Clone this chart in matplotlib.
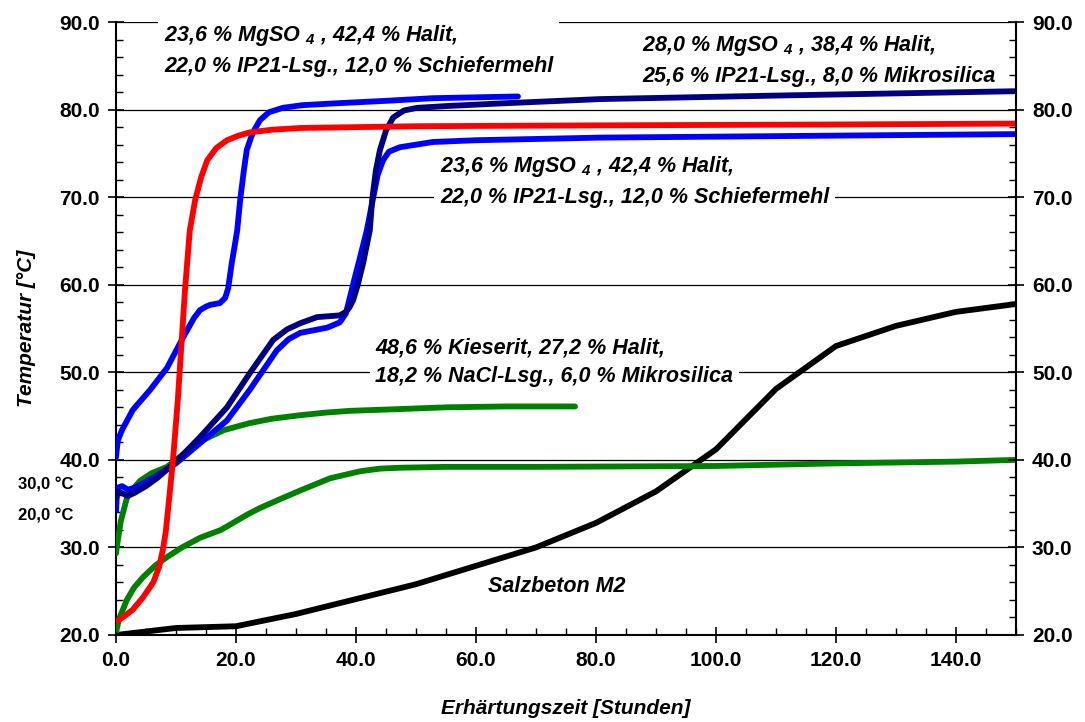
import matplotlib.pyplot as plt
from matplotlib.ticker import MultipleLocator, FormatStrFormatter

plt.rcParams['font.family'] = ['Liberation Sans', 'DejaVu Sans']
plt.rcParams['mathtext.fontset'] = 'custom'
plt.rcParams['mathtext.rm'] = 'Liberation Sans:bold:italic'
plt.rcParams['mathtext.it'] = 'Liberation Sans:bold:italic'

# Salzbeton M2 (schwarz)
m2_t = [0, 10, 20, 30, 40, 50, 60, 70, 80, 90, 100, 110, 120, 130, 140, 150]
m2_T = [20.0, 20.8, 21.0, 22.4, 24.1, 25.8, 27.9, 30.0, 32.8, 36.4, 41.2, 48.1, 53.0, 55.3, 56.9, 57.8]

# 48,6 % Kieserit ... (gruen, obere Kurve)
kies1_t = [0, 0.3, 0.8, 1.8, 3, 4, 6, 8.5, 10, 14, 18, 22.3, 26, 30.7, 35, 39, 47.3, 55, 65, 76.5]
kies1_T = [29.3, 30.8, 33.0, 35.6, 36.8, 37.6, 38.5, 39.2, 40.0, 42.1, 43.4, 44.2, 44.7, 45.1, 45.4, 45.6, 45.8, 46.0, 46.1, 46.1]

# 48,6 % Kieserit ... (gruen, untere Kurve)
kies2_t = [0, 0.5, 1.8, 3, 4.5, 6.5, 8.5, 11, 14, 17.5, 20, 22, 24, 27.3, 30.7, 35.7, 40.7, 44, 47.3, 55, 70, 100, 120, 140, 150]
kies2_T = [20.3, 21.8, 24.0, 25.4, 26.6, 27.9, 28.9, 30.0, 31.1, 32.0, 33.0, 33.8, 34.5, 35.5, 36.5, 37.9, 38.7, 39.0, 39.1, 39.2, 39.2, 39.3, 39.6, 39.8, 40.0]

# 28,0 % MgSO4 ... Mikrosilica (rot)
rot_t = [0, 1.5, 2.8, 4.5, 6.2, 7.2, 7.8, 8.3, 8.7, 9.5, 10.3, 10.7, 11.5, 12.3, 13.2, 14.2, 15.2, 16.7, 18.5, 20.3, 22.3, 26, 30.7, 50, 80.7, 120, 150]
rot_T = [21.5, 22.2, 22.9, 24.3, 26.0, 27.8, 29.7, 31.8, 34.5, 40.0, 46.8, 51.0, 59.4, 66.2, 69.7, 72.3, 74.2, 75.6, 76.5, 77.0, 77.4, 77.7, 77.9, 78.1, 78.2, 78.3, 78.4]

# 23,6 % MgSO4 ... Schiefermehl (blau, kurz)
blau1_t = [0, 0.3, 1, 2.8, 5.7, 8.5, 11.2, 13, 14, 15, 15.7, 17.3, 18.2, 18.7, 19.3, 19.8, 20.2, 20.7, 21.3, 21.8, 22.5, 23, 24, 25.5, 27.8, 31, 36.2, 45, 52.8, 60, 67]
blau1_T = [40.3, 42.2, 43.4, 45.7, 48.0, 50.5, 54.0, 56.2, 57.1, 57.5, 57.7, 57.9, 58.5, 59.6, 62.5, 64.5, 66.2, 69.7, 73.0, 75.4, 76.8, 77.6, 78.8, 79.7, 80.2, 80.5, 80.7, 81.0, 81.3, 81.4, 81.5]

# 28,0 % MgSO4 ... Mikrosilica (dunkelblau)
navy_t = [0, 0.3, 1, 2, 3, 5, 7, 10, 14, 18.5, 22.3, 26.2, 28.5, 30.7, 33.5, 37.3, 38.3, 38.9, 39.5, 40.3, 41.2, 42.3, 42.7, 43.3, 44, 45, 46.2, 48, 50.2, 55, 64, 80.7, 110, 150]
navy_T = [35.5, 36.4, 36.2, 35.9, 36.2, 37.0, 38.0, 39.8, 42.6, 46.0, 49.9, 53.7, 54.9, 55.6, 56.3, 56.5, 56.9, 57.4, 58.2, 60.0, 62.5, 66.2, 69.7, 73.0, 75.4, 77.6, 79.1, 79.9, 80.2, 80.4, 80.7, 81.2, 81.6, 82.1]

# 23,6 % MgSO4 ... Schiefermehl (blau, lang)
blau2_t = [0, 0.2, 1, 2, 3, 5, 7, 10, 14, 18.5, 22.3, 26.8, 28.8, 30.7, 35.2, 37.3, 38.3, 39, 39.8, 40.7, 41.8, 42.8, 43.6, 44.5, 45.5, 47.3, 52.8, 60, 80.7, 150]
blau2_T = [34.0, 36.8, 37.0, 36.6, 36.8, 37.5, 38.3, 39.6, 41.9, 44.5, 48.0, 52.5, 53.8, 54.5, 55.1, 55.7, 56.7, 58.6, 60.8, 63.2, 66.2, 69.7, 72.5, 74.2, 75.2, 75.7, 76.3, 76.5, 76.8, 77.2]

fig = plt.figure(figsize=(10.85, 7.22), dpi=100)
ax = fig.add_axes([0.1069, 0.1205, 0.8295, 0.849])

lw = 4.2
style = dict(lw=lw, solid_joinstyle='round', solid_capstyle='butt', zorder=3)
ax.plot(m2_t, m2_T, color='black', **style)
ax.plot(kies2_t, kies2_T, color='#008000', **style)
ax.plot(kies1_t, kies1_T, color='#008000', **dict(style, solid_capstyle='round'))
ax.plot(blau2_t, blau2_T, color='#0000ff', **style)
ax.plot(navy_t, navy_T, color='#000080', **style)
ax.plot(blau1_t, blau1_T, color='#0000ff', **dict(style, solid_capstyle='round'))
ax.plot(rot_t, rot_T, color='#ff0000', **dict(style, zorder=4))

ax.set_xlim(0, 150)
ax.set_ylim(20, 90)
ax.xaxis.set_major_locator(MultipleLocator(20))
ax.xaxis.set_minor_locator(MultipleLocator(5))
ax.yaxis.set_major_locator(MultipleLocator(10))
ax.yaxis.set_minor_locator(MultipleLocator(2))
ax.xaxis.set_major_formatter(FormatStrFormatter('%.1f'))
ax.yaxis.set_major_formatter(FormatStrFormatter('%.1f'))

ax.grid(axis='y', which='major', color='black', lw=0.9, zorder=1)
ax.spines['top'].set_visible(False)
ax.spines['right'].set_visible(False)
for s in ['left', 'bottom']:
    ax.spines[s].set_linewidth(1.5)

ax.tick_params(which='major', direction='inout', length=11, width=1.2, labelsize=15, pad=6)
ax.tick_params(which='minor', direction='in', length=5, width=1.0)
for lab in ax.get_xticklabels() + ax.get_yticklabels():
    lab.set_fontweight('bold')

ax2 = ax.twinx()
ax2.set_ylim(20, 90)
ax2.yaxis.set_major_locator(MultipleLocator(10))
ax2.yaxis.set_minor_locator(MultipleLocator(2))
ax2.yaxis.set_major_formatter(FormatStrFormatter('%.1f'))
ax2.tick_params(which='major', direction='inout', length=11, width=1.2, labelsize=15, pad=6)
ax2.tick_params(which='minor', direction='in', length=5, width=1.0)
for lab in ax2.get_yticklabels():
    lab.set_fontweight('bold')
for s in ['top', 'left', 'bottom']:
    ax2.spines[s].set_visible(False)
ax2.spines['right'].set_linewidth(1.5)

ax.set_xlabel('Erhärtungszeit [Stunden]', fontsize=15, fontweight='bold', style='italic', labelpad=21)
ax.set_ylabel('Temperatur [°C]', fontsize=15, fontweight='bold', style='italic', labelpad=17)

# Textkaesten liegen ueber den Gitterlinien, aber unter den Kurven
box = dict(facecolor='white', edgecolor='none', pad=4)
txt = dict(fontsize=15.5, fontweight='bold', style='italic', linespacing=1.5, zorder=2)

ax.text(8.0, 89.9, '23,6 % MgSO $_{4}$ , 42,4 % Halit,\n22,0 % IP21-Lsg., 12,0 % Schiefermehl',
        va='top', ha='left', bbox=box, **txt)
ax.text(87.7, 88.7, '28,0 % MgSO $_{4}$ , 38,4 % Halit,\n25,6 % IP21-Lsg., 8,0 % Mikrosilica',
        va='top', ha='left', bbox=box, **txt)
ax.text(54.0, 74.9, '23,6 % MgSO $_{4}$ , 42,4 % Halit,\n22,0 % IP21-Lsg., 12,0 % Schiefermehl',
        va='top', ha='left', bbox=box, **txt)
ax.text(43.2, 54.0, '48,6 % Kieserit, 27,2 % Halit,\n18,2 % NaCl-Lsg., 6,0 % Mikrosilica',
        va='top', ha='left', bbox=box, **txt)
ax.text(73.5, 25.5, 'Salzbeton M2', va='center', ha='center', **txt)

fig.text(18 / 1085, 1 - 485 / 722, '30,0 °C', fontsize=12, fontweight='bold', va='center', ha='left')
fig.text(18 / 1085, 1 - 516 / 722, '20,0 °C', fontsize=12, fontweight='bold', va='center', ha='left')

fig.savefig('out.png', dpi=100)
